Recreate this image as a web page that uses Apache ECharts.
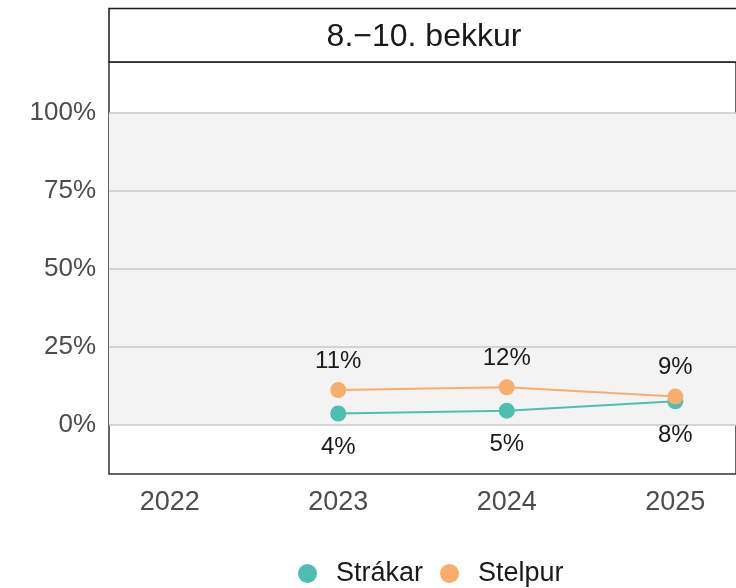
<!DOCTYPE html>
<html>
<head>
<meta charset="utf-8">
<script src="https://cdn.jsdelivr.net/npm/echarts@6/dist/echarts.min.js"></script>
<style>html,body{margin:0;padding:0;background:#fff}#c{width:736px;height:588px}</style>
</head>
<body>
<div id="c"></div>
<script>
var stripTitle = '8.\u221210. bekkur';
var years = [2022, 2023, 2024, 2025];
var seriesNames = ['Strákar', 'Stelpur'];
var strakar = [[2023, 3.7], [2024, 4.6], [2025, 7.6]];
var stelpur = [[2023, 11.2], [2024, 12.1], [2025, 9.1]];
var yTicks = [0, 25, 50, 75, 100];

var font = 'Liberation Sans, Arial, sans-serif';
var chart = echarts.init(document.getElementById('c'));
var teal = '#4DBFB0', orange = '#F7AD6C';

function dataSeries(name, data, color, pos, dist) {
  return {
    name: name, type: 'line', data: data, z: 5,
    symbol: 'circle', symbolSize: 16,
    lineStyle: {color: color, width: 2},
    itemStyle: {color: color},
    label: {show: true, position: pos, distance: dist, fontFamily: font, fontSize: 24, color: '#1a1a1a',
      formatter: function (p) { return Math.round(p.value[1]) + '%'; }},
    emphasis: {disabled: true}, animation: false
  };
}

chart.setOption({
  animation: false,
  grid: {left: 109, right: 0, top: 62, bottom: 114, show: true, borderColor: '#333', borderWidth: 1.5, backgroundColor: 'transparent'},
  xAxis: {
    type: 'value', min: 2021.64, max: 2025.36,
    axisLine: {show: false}, axisTick: {show: false}, splitLine: {show: false},
    axisLabel: {customValues: years, fontFamily: font, fontSize: 27, color: '#4d4d4d', margin: 15,
      formatter: function (v) { return String(v); }}
  },
  yAxis: {
    type: 'value', min: -15.7, max: 116.35,
    axisLine: {show: false}, axisTick: {show: false}, splitLine: {show: false},
    axisLabel: {customValues: yTicks, fontFamily: font, fontSize: 26, color: '#4d4d4d', margin: 13,
      padding: [7, 0, 0, 0],
      formatter: function (v) { return v + '%'; }}
  },
  legend: {
    data: seriesNames, top: 555, left: 293, icon: 'circle', itemWidth: 19, itemHeight: 19, itemGap: 17,
    textStyle: {fontFamily: font, fontSize: 27, color: '#1a1a1a', padding: [0, 0, 0, 14]}
  },
  graphic: [
    {type: 'rect', shape: {x: 109, y: 8.5, width: 640, height: 53.5}, style: {fill: '#fff', stroke: '#1a1a1a', lineWidth: 1.5}, z: 10},
    {type: 'text', x: 424, y: 37, style: {text: stripTitle, fontFamily: font, fontSize: 32, fill: '#1a1a1a', align: 'center', verticalAlign: 'middle'}, z: 11}
  ],
  series: [
    {
      name: 'bg', type: 'line', data: [], z: 1, silent: true,
      markArea: {silent: true, itemStyle: {color: '#f3f3f3'}, data: [[{yAxis: 0}, {yAxis: 100}]]},
      markLine: {silent: true, symbol: 'none', label: {show: false},
        lineStyle: {color: '#c8c8c8', width: 1.5, type: 'solid'},
        data: yTicks.map(function (v) { return {yAxis: v}; })}
    },
    dataSeries(seriesNames[0], strakar, teal, 'bottom', 14),
    dataSeries(seriesNames[1], stelpur, orange, 'top', 9)
  ]
});
</script>
</body>
</html>
